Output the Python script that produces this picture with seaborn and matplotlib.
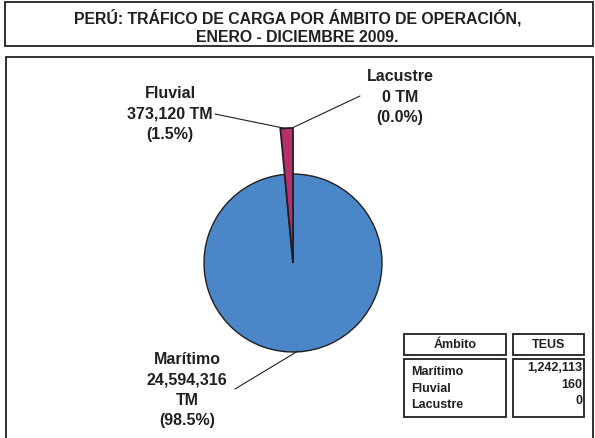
import seaborn as sns
import matplotlib.pyplot as plt
from matplotlib.patches import Rectangle

sns.set_style("white")
plt.rcParams['font.family'] = ['Liberation Sans', 'DejaVu Sans']
plt.rcParams['font.weight'] = 'bold'

# data
ambitos = ['Marítimo', 'Fluvial', 'Lacustre']
toneladas = [24594316, 373120, 0]
porcentajes = [98.5, 1.5, 0.0]
teus = [1242113, 160, 0]
colores = ['#4A86C8', '#B3306B', '#7F7F7F']

W, H = 595, 438
INK = '#231F20'


def Y(y):
    # pixel row -> data y (axes spans the whole figure, y up)
    return H - y


fig = plt.figure(figsize=(W / 100, H / 100), dpi=100)
ax = fig.add_axes([0, 0, 1, 1])

wedges, _ = ax.pie(toneladas, colors=colores, startangle=90, counterclock=False,
                   center=(293, Y(263)), radius=89,
                   wedgeprops=dict(edgecolor=INK, linewidth=1.0))
# the small river slice sticks out beyond the circle
wedges[1].set_radius(135)
wedges[1].set_zorder(5)
wedges[1].set_linewidth(1.3)

ax.set_xlim(0, W)
ax.set_ylim(0, H)
ax.set_aspect('equal')
ax.axis('off')

# title box and chart frame
ax.add_patch(Rectangle((5, Y(46)), 588, 44, fill=False, ec=INK, lw=1.3))
ax.add_patch(Rectangle((6, Y(450)), 587, 393, fill=False, ec=INK, lw=1.3))
ax.text(W / 2, Y(27), 'PERÚ: TRÁFICO DE CARGA POR ÁMBITO DE OPERACIÓN,\nENERO - DICIEMBRE 2009.',
        ha='center', va='center', fontsize=11.4, color=INK, linespacing=1.34)


def etiqueta(i, sep='\n'):
    return f'{ambitos[i]}\n{toneladas[i]:,}{sep}TM\n({porcentajes[i]:.1f}%)'


lbl = dict(ha='center', va='center', fontsize=11.5, color=INK, linespacing=1.47)
ax.text(170, Y(114), etiqueta(1, ' '), **lbl)
ax.text(400, Y(97), etiqueta(2, ' '), **lbl)
ax.text(187, Y(390), etiqueta(0), **lbl)

# leader lines
ax.plot([215, 283], [Y(114), Y(128)], color=INK, lw=0.8)
ax.plot([360, 292], [Y(96), Y(128)], color=INK, lw=0.8)
ax.plot([235, 298], [Y(389), Y(351)], color=INK, lw=0.8)

# TEUS table
for x0, x1 in [(404, 506), (513, 584)]:
    ax.add_patch(Rectangle((x0, Y(355)), x1 - x0, 21, fill=False, ec=INK, lw=1.3))
    ax.add_patch(Rectangle((x0, Y(417)), x1 - x0, 58, fill=False, ec=INK, lw=1.3))
ax.text(455, Y(344.5), 'Ámbito', ha='center', va='center', fontsize=9, color=INK)
ax.text(548.5, Y(344.5), 'TEUS', ha='center', va='center', fontsize=9, color=INK)
for k, (nombre, t) in enumerate(zip(ambitos, teus)):
    ax.text(411, Y(372 + 16.5 * k), nombre, ha='left', va='center', fontsize=9, color=INK)
    ax.text(582, Y(368 + 16.5 * k), f'{t:,}', ha='right', va='center', fontsize=9, color=INK)

fig.savefig('out.png', dpi=100)
